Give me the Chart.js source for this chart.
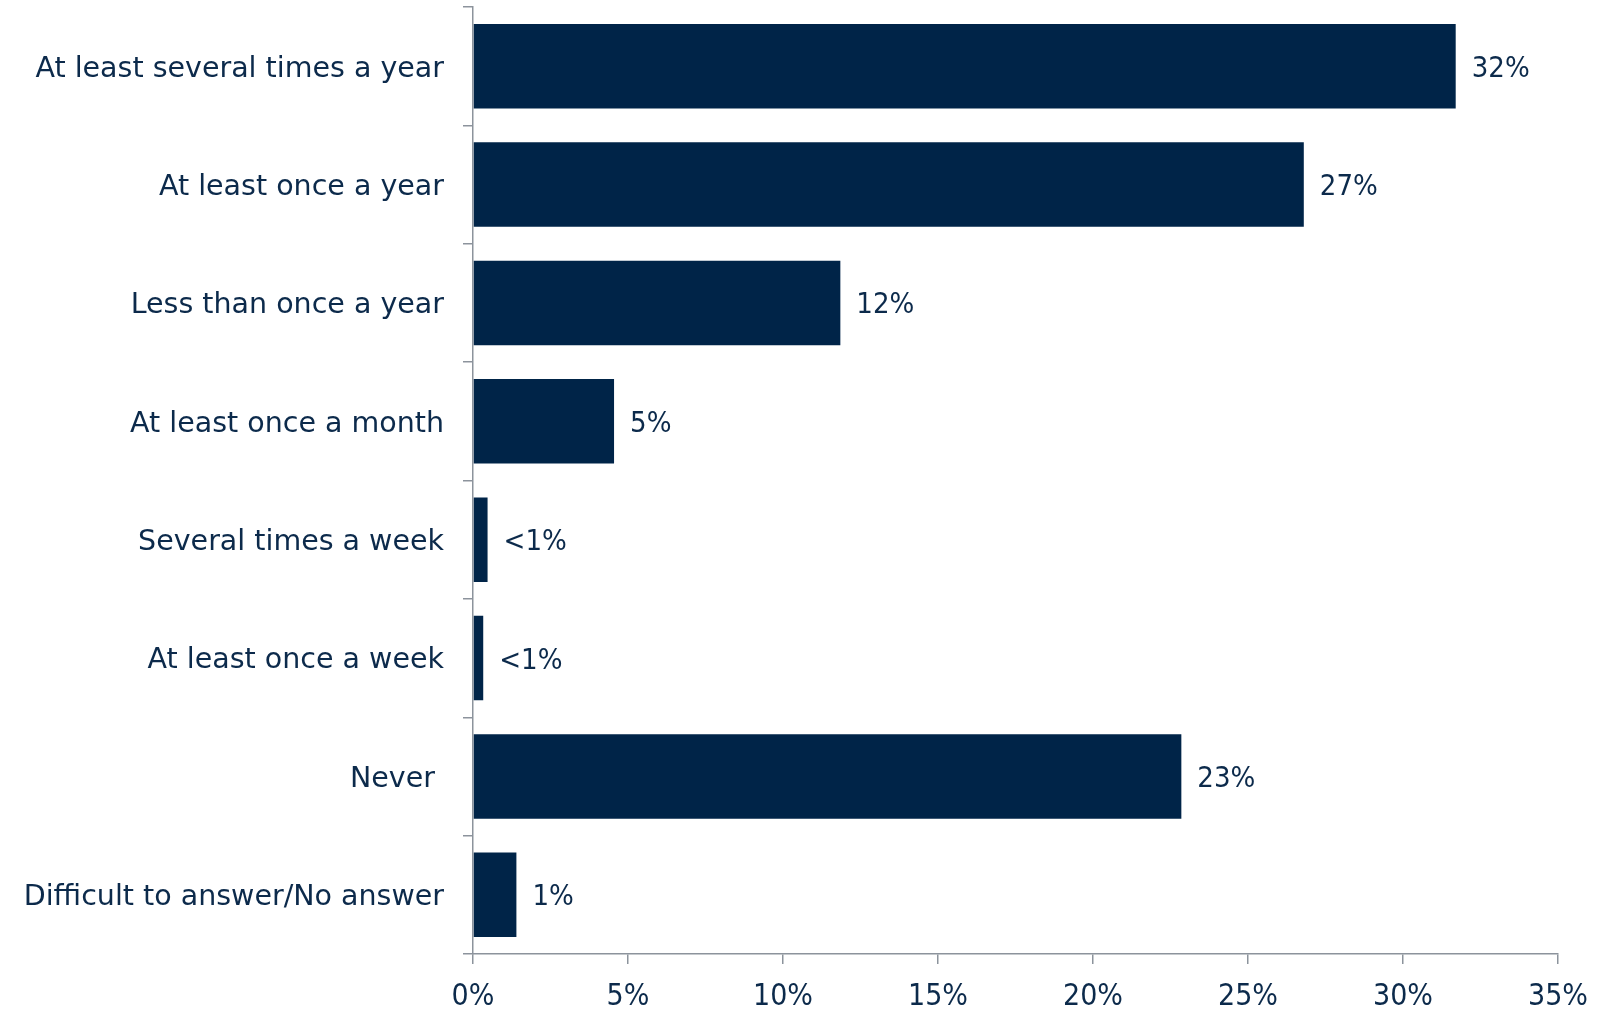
<!DOCTYPE html>
<html>
<head>
<meta charset="utf-8">
<script src="https://cdn.jsdelivr.net/npm/chart.js@4.4.1/dist/chart.umd.min.js"></script>
<style>
  html, body { margin: 0; padding: 0; background: #ffffff; }
  #wrap { width: 1605px; height: 1010px; }
</style>
</head>
<body>
<div id="wrap"><canvas id="grafico"></canvas></div>
<script>
// Categorie e valori (in %)
const categorie = [
    "At least several times a year",
    "At least once a year",
    "Less than once a year",
    "At least once a month",
    "Several times a week",
    "At least once a week",
    "Never ",
    "Difficult to answer/No answer"
];
const valori = [31.7, 26.8, 11.85, 4.55, 0.47, 0.33, 22.85, 1.4];
const etichette = ["32%", "27%", "12%", "5%", "<1%", "<1%", "23%", "1%"];
const tickX = [0, 5, 10, 15, 20, 25, 30, 35];

const blu = "#002448";
const testo = "#0c2a4b";
const grigio = "#8c939c";
const fontStretto = "'DejaVu Sans Condensed', 'DejaVu Sans', sans-serif";
const fontLargo = "'DejaVu Sans', sans-serif";

// Etichette sui bordi delle barre
const etichetteBarre = {
    id: "etichetteBarre",
    afterDatasetsDraw(chart) {
        const ctx = chart.ctx;
        const meta = chart.getDatasetMeta(0);
        ctx.save();
        ctx.fillStyle = testo;
        ctx.font = "29px " + fontStretto;
        ctx.textAlign = "left";
        ctx.textBaseline = "middle";
        meta.data.forEach((bar, i) => {
            ctx.fillText(etichette[i], bar.x + 16, bar.y + 3);
        });
        ctx.restore();
    }
};

new Chart(document.getElementById("grafico"), {
    type: "bar",
    data: {
        labels: categorie,
        datasets: [{
            data: valori,
            backgroundColor: blu,
            barPercentage: 0.714,
            categoryPercentage: 1
        }]
    },
    options: {
        indexAxis: "y",
        responsive: true,
        maintainAspectRatio: false,
        animation: false,
        layout: { padding: { top: 7, right: 47, left: 0, bottom: 0 } },
        plugins: { legend: { display: false }, tooltip: { enabled: false } },
        scales: {
            x: {
                min: 0,
                max: 35,
                afterFit(s) {
                    s.height = 56;
                    s.paddingLeft = 0; s.paddingRight = 0;
                    s.paddingTop = 0; s.paddingBottom = 0;
                },
                afterBuildTicks(s) { s.ticks = tickX.map(v => ({ value: v })); },
                border: { color: grigio, width: 1.5 },
                grid: { drawOnChartArea: false, tickLength: 10, color: grigio, lineWidth: 1.5 },
                ticks: {
                    color: testo,
                    padding: 15,
                    font: { family: fontStretto, size: 30 },
                    callback: v => v + "%"
                }
            },
            y: {
                afterFit(s) {
                    s.width = 473;
                    s.paddingLeft = 0; s.paddingRight = 0;
                    s.paddingTop = 0; s.paddingBottom = 0;
                },
                border: { color: grigio, width: 1.5 },
                grid: { drawOnChartArea: false, tickLength: 10, color: grigio, lineWidth: 1.5, offset: true },
                ticks: {
                    color: testo,
                    padding: 19,
                    labelOffset: 3,
                    font: { family: fontLargo, size: 28.5 }
                }
            }
        }
    },
    plugins: [etichetteBarre]
});
</script>
</body>
</html>
